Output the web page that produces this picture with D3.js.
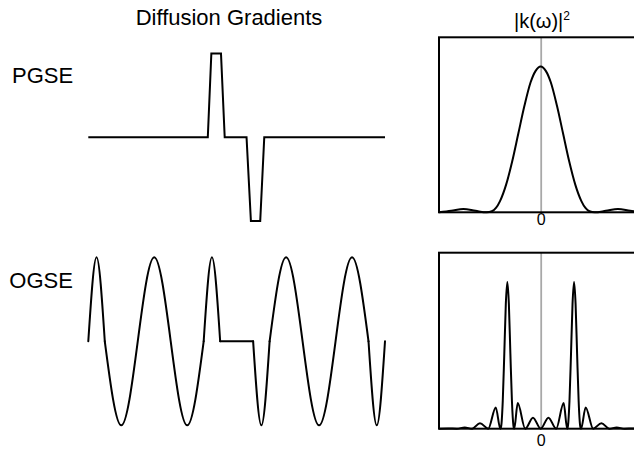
<!DOCTYPE html>
<html>
<head>
<meta charset="utf-8">
<script src="https://cdn.jsdelivr.net/npm/d3@7"></script>
<style>
  body { margin: 0; background: #fff; }
  svg { display: block; }
  text { font-family: "Liberation Sans", Arial, Helvetica, sans-serif; fill: #000; }
</style>
</head>
<body>
<svg id="chart" width="634" height="451"></svg>
<script>
// ---- Gradient waveforms (time in ms, gradient normalised to peak amplitude) ----
const pgseTime = [0, 14.5, 14.93, 16.1, 16.55, 19.2, 19.73, 20.86, 21.35, 36];
const pgseGrad = [0, 0, 1, 1, 0, 0, -1, -1, 0, 0];

// OGSE: apodised cosine, knots at zero crossings and extrema, one list per smooth piece
const ogseTime = [
  [0, 1, 2],
  [2, 4, 6, 8, 10, 12, 14],
  [14, 15, 16],
  [16, 20],
  [20, 21, 22],
  [22, 24, 26, 28, 30, 32, 34],
  [34, 35, 36]
];
const ogseGrad = [
  [0, 1, 0],
  [0, -1, 0, 1, 0, -1, 0],
  [0, 1, 0],
  [0, 0],
  [0, -1, 0],
  [0, 1, 0, -1, 0, 1, 0],
  [0, -1, 0]
];

// ---- Encoding spectra |k(ω)|² (ω in arbitrary units, power normalised) ----
const pgseOmega = [-100, -88, -76, -64, -53, -48, -44, -40, -34, -28, -22, -16, -10, -5, 0,
                   5, 10, 16, 22, 28, 34, 40, 44, 48, 53, 64, 76, 88, 100];
const pgsePower = [0, 0.01, 0.023, 0.01, 0, 0.007, 0.03, 0.077, 0.19, 0.35, 0.54, 0.73, 0.89, 0.97, 1,
                   0.97, 0.89, 0.73, 0.54, 0.35, 0.19, 0.077, 0.03, 0.007, 0, 0.01, 0.023, 0.01, 0];

const ogseOmega = [-100, -91, -82.6, -74.7, -67.4, -59.7, -51.6, -44.2, -39.7, -38.8, -37.3, -35.8, -34.3,
                   -32.8, -31.3, -29.8, -28.3, -26.8, -26, -22.6, -15.2, -7.6, 0,
                   7.6, 15.2, 22.6, 26, 26.8, 28.3, 29.8, 31.3, 32.8, 34.3, 35.8, 37.3, 38.8, 39.7,
                   44.2, 51.6, 59.7, 67.4, 74.7, 82.6, 91, 100];
const ogsePower = [0, 0.002, 0, 0.008, 0, 0.038, 0, 0.145, 0, 0.02, 0.19, 0.51, 0.85,
                   1, 0.85, 0.51, 0.19, 0.02, 0, 0.175, 0, 0.075, 0,
                   0.075, 0, 0.175, 0, 0.02, 0.19, 0.51, 0.85, 1, 0.85, 0.51, 0.19, 0.02, 0,
                   0.145, 0, 0.038, 0, 0.008, 0, 0.002, 0];

const zeroTick = [0];

const svg = d3.select("#chart");

// ---- Headings ----
svg.append("text").attr("x", 229).attr("y", 25)
  .attr("text-anchor", "middle").style("font-size", "22px")
  .text("Diffusion Gradients");

const kTitle = svg.append("text").attr("x", 542).attr("y", 27.5)
  .attr("text-anchor", "middle").style("font-size", "20px");
kTitle.append("tspan").text("|k(ω)|");
kTitle.append("tspan").style("font-size", "12px").attr("dy", -8).text("2");

svg.append("text").attr("x", 12).attr("y", 82.7).style("font-size", "22px").text("PGSE");
svg.append("text").attr("x", 9.3).attr("y", 287.7).style("font-size", "22px").text("OGSE");

// ---- Waveforms ----
const t = d3.scaleLinear().domain([0, 36]).range([88.3, 385]);
const gP = d3.scaleLinear().domain([-1, 1]).range([221, 53.4]);
const gO = d3.scaleLinear().domain([-1, 1]).range([425.3, 257.3]);

svg.append("path")
  .datum(pgseTime.map((d, i) => [d, pgseGrad[i]]))
  .attr("fill", "none").attr("stroke", "#000").attr("stroke-width", 2)
  .attr("stroke-linejoin", "miter")
  .attr("d", d3.line().x(d => t(d[0])).y(d => gP(d[1])));

const ogseLine = d3.line().curve(d3.curveNatural).x(d => t(d[0])).y(d => gO(d[1]));
svg.append("g").selectAll("path")
  .data(ogseTime.map((ts, k) => ts.map((d, i) => [d, ogseGrad[k][i]])))
  .join("path")
  .attr("fill", "none").attr("stroke", "#000").attr("stroke-width", 2)
  .attr("stroke-linecap", "round")
  .attr("d", ogseLine);

// ---- Spectrum panels ----
const w = d3.scaleLinear().domain([-100, 100]).range([439, 642.4]);

function spectrumPanel(top, bottom, omega, power, labelPad) {
  const y = d3.scaleLinear().domain([0, 1.2]).range([bottom, top]);
  const g = svg.append("g");

  const axis = g.append("g")
    .attr("transform", `translate(0,${bottom})`)
    .call(d3.axisBottom(w).tickValues(zeroTick)
      .tickSizeInner(-(bottom - top)).tickSizeOuter(0)
      .tickPadding(labelPad).tickFormat(d3.format("d")));
  axis.attr("font-size", null).attr("font-family", null);
  axis.select(".domain").remove();
  axis.selectAll(".tick line").attr("stroke", "#a8a8a8").attr("stroke-width", 1.8);
  axis.selectAll(".tick text")
    .style("font-size", "16px")
    .style("font-family", "\"Liberation Sans\", Arial, sans-serif")
    .attr("fill", "#000");

  g.append("path")
    .datum(omega.map((d, i) => [d, power[i]]))
    .attr("fill", "none").attr("stroke", "#000").attr("stroke-width", 2)
    .attr("stroke-linejoin", "round")
    .attr("d", d3.line().curve(d3.curveMonotoneX).x(d => w(d[0])).y(d => y(d[1])));

  g.append("rect")
    .attr("x", w(-100)).attr("y", top)
    .attr("width", w(100) - w(-100)).attr("height", bottom - top)
    .attr("fill", "none").attr("stroke", "#000").attr("stroke-width", 2);
}

spectrumPanel(37.3, 212.3, pgseOmega, pgsePower, 1.5);
spectrumPanel(252.7, 428.7, ogseOmega, ogsePower, 6);
</script>
</body>
</html>
